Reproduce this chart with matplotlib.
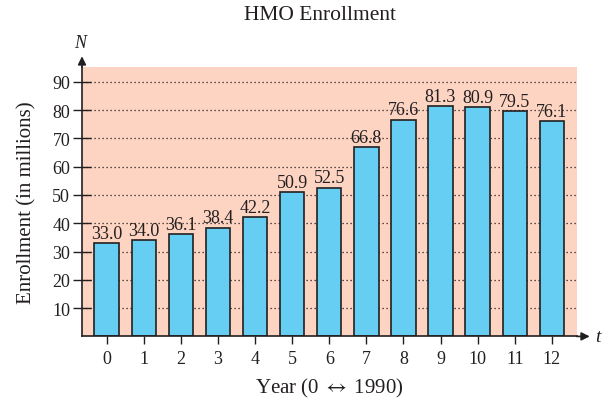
import numpy as np
import matplotlib.pyplot as plt

plt.rcParams['font.family'] = ['Liberation Serif', 'DejaVu Serif']
plt.rcParams['mathtext.fontset'] = 'stix'

years = np.arange(13)
enrollment = [33.0, 34.0, 36.1, 38.4, 42.2, 50.9, 52.5, 66.8, 76.6, 81.3, 80.9, 79.5, 76.1]
yticks = [10, 20, 30, 40, 50, 60, 70, 80, 90]

W, H = 611, 402
fig = plt.figure(figsize=(W / 100, H / 100), dpi=100)
ax = fig.add_axes([82 / W, (H - 337.4) / H, (576.7 - 82) / W, (337.4 - 68.3) / H])

pink = '#fdd3c1'
blue = '#66cdf3'
ink = '#231f20'

ax.set_facecolor(pink)
ax.set_xlim(-0.665, 12.67)
ax.set_ylim(0, 95.1)

for v in yticks:
    ax.axhline(v, color=ink, lw=0.9, ls=(0, (1, 2.2)), zorder=1)

bars = ax.bar(years, enrollment, width=0.66, color=blue, edgecolor=ink, lw=1.2, zorder=2)
ax.bar_label(bars, [f"{v:.1f}" for v in enrollment], padding=1, fontsize=13, color=ink)

ax.set_xticks(years)
ax.set_yticks(yticks)
ax.tick_params(axis='x', direction='out', length=6, width=1, colors=ink, labelsize=13, pad=4)
ax.tick_params(axis='y', direction='inout', length=13, width=1, colors=ink, labelsize=13, pad=2)

for s in ('top', 'right'):
    ax.spines[s].set_visible(False)
for s in ('left', 'bottom'):
    ax.spines[s].set_color(ink)
    ax.spines[s].set_linewidth(1.2)

# arrowheads on the axes
ax.annotate('', xy=(0, 1 + 11 / 269), xytext=(0, 1), xycoords='axes fraction',
            arrowprops=dict(arrowstyle='-|>', color=ink, lw=1.2, mutation_scale=12, shrinkA=0, shrinkB=0))
ax.annotate('', xy=(1 + 13 / 495, 0), xytext=(1, 0), xycoords='axes fraction',
            arrowprops=dict(arrowstyle='-|>', color=ink, lw=1.2, mutation_scale=12, shrinkA=0, shrinkB=0))
fig.text(80 / W, 1 - 44 / H, 'N', style='italic', fontsize=13, ha='center', va='center', color=ink)
fig.text(598 / W, 1 - 338 / H, 't', style='italic', fontsize=14, ha='center', va='center', color=ink)

ax.set_xlabel('Year (0 $\\leftrightarrow$ 1990)', fontsize=15, color=ink, labelpad=6.5)
ax.set_ylabel('Enrollment (in millions)', fontsize=15, color=ink, labelpad=11)
fig.text(320 / W, 1 - 16 / H, 'HMO Enrollment', fontsize=15.5, ha='center', va='center', color=ink)

fig.savefig('out.png', dpi=100)
